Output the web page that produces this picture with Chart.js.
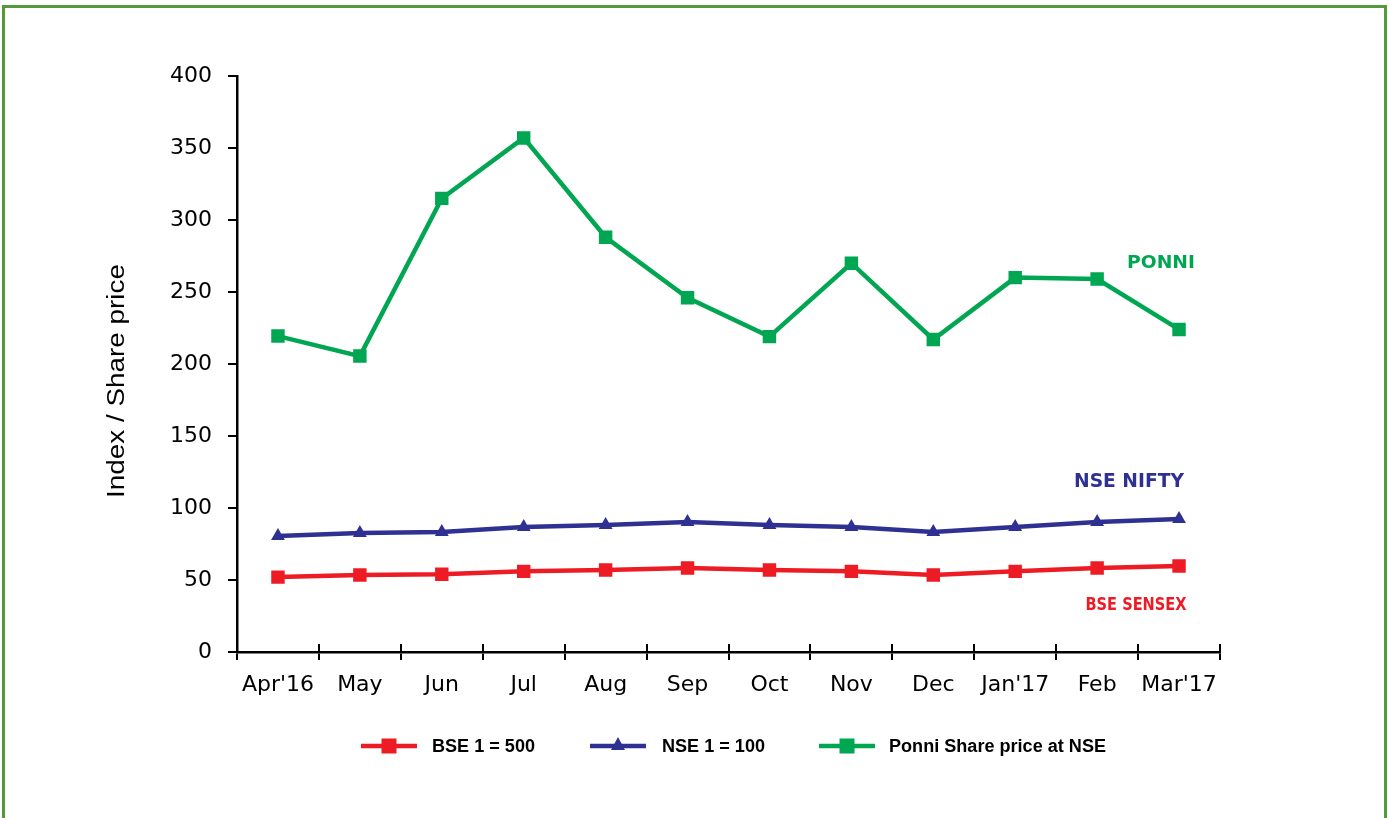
<!DOCTYPE html>
<html>
<head>
<meta charset="utf-8">
<script src="https://cdn.jsdelivr.net/npm/chart.js@4.4.1/dist/chart.umd.min.js"></script>
<style>
  html, body { margin: 0; padding: 0; background: #fff; overflow: hidden; }
  #frame { position: absolute; left: 2px; top: 5px; width: 1379px; height: 900px;
           border: 3px solid #55993a; box-sizing: content-box; }
  #c { position: absolute; left: 0; top: 0; }
</style>
</head>
<body>
<div id="frame"></div>
<canvas id="c" width="1389" height="818"></canvas>
<script>
const categories = ["Apr'16", "May", "Jun", "Jul", "Aug", "Sep", "Oct", "Nov", "Dec", "Jan'17", "Feb", "Mar'17"];
const bseValues = [52, 53.5, 54, 56, 57, 58.3, 57, 56, 53.5, 56, 58.3, 59.7];
const nseValues = [80.5, 82.6, 83.3, 86.8, 88.2, 90.3, 88.2, 86.8, 83.3, 86.8, 90.3, 92.4];
const ponniValues = [219.4, 205.5, 315, 357, 288, 246, 219, 270, 217, 260, 259, 224];
const seriesNames = ["BSE 1 = 500", "NSE 1 = 100", "Ponni Share price at NSE"];
const yTicks = [0, 50, 100, 150, 200, 250, 300, 350, 400];
const axisTitle = "Index / Share price";
const seriesTags = ["BSE SENSEX", "NSE NIFTY", "PONNI"];

const RED = '#ED1C24', BLUE = '#2E3192', GREEN = '#00A651';
const TICK_FONT = '"DejaVu Sans", Verdana, sans-serif';

function drawFitText(ctx, text, x, y, width, align) {
  const w = ctx.measureText(text).width;
  const sx = width / w;
  ctx.save();
  ctx.translate(x, y);
  ctx.scale(sx, 1);
  ctx.textAlign = align;
  ctx.fillText(text, 0, 0);
  ctx.restore();
}

const extrasPlugin = {
  id: 'extras',
  afterDraw(chart) {
    const ctx = chart.ctx;
    const xs = chart.scales.x, ys = chart.scales.y;
    ctx.save();
    ctx.strokeStyle = '#000';
    ctx.lineWidth = 2;
    const n = categories.length;
    for (let i = 0; i <= n; i++) {
      const px = Math.round(xs.left + i * (xs.right - xs.left) / n);
      ctx.beginPath();
      ctx.moveTo(px, ys.bottom);
      ctx.lineTo(px, ys.bottom - 8);
      ctx.stroke();
    }
    // axis title
    ctx.fillStyle = '#000';
    ctx.font = '23px "Liberation Sans", Arial, sans-serif';
    ctx.textBaseline = 'middle';
    ctx.translate(118, 381);
    ctx.rotate(-Math.PI / 2);
    drawFitText(ctx, axisTitle, 0, 0, 234, 'center');
    ctx.restore();

    // series tags
    ctx.save();
    ctx.textBaseline = 'middle';
    ctx.fillStyle = GREEN;
    ctx.font = 'bold 18px "DejaVu Sans", Verdana, sans-serif';
    drawFitText(ctx, seriesTags[2], 1161, 263, 68, 'center');
    ctx.fillStyle = BLUE;
    ctx.font = 'bold 20px "DejaVu Sans", Verdana, sans-serif';
    drawFitText(ctx, seriesTags[1], 1129, 482, 110, 'center');
    ctx.fillStyle = RED;
    ctx.font = 'bold 17px "DejaVu Sans", Verdana, sans-serif';
    drawFitText(ctx, seriesTags[0], 1136, 606, 101, 'center');
    ctx.restore();

    // legend
    ctx.save();
    const items = [
      { x0: 361, x1: 417, tx: 432, tw: 103 },
      { x0: 590, x1: 646, tx: 662, tw: 103 },
      { x0: 819, x1: 875, tx: 889, tw: 217 }
    ];
    const ly = 746;
    chart.data.datasets.forEach((ds, i) => {
      const it = items[i];
      ctx.strokeStyle = ds.borderColor;
      ctx.lineWidth = 4.5;
      ctx.beginPath();
      ctx.moveTo(it.x0, ly);
      ctx.lineTo(it.x1, ly);
      ctx.stroke();
      ctx.fillStyle = ds.borderColor;
      const cx = (it.x0 + it.x1) / 2;
      if (ds.pointStyle === 'triangle') {
        ctx.beginPath();
        ctx.moveTo(cx, ly - 9);
        ctx.lineTo(cx + 7, ly + 4);
        ctx.lineTo(cx - 7, ly + 4);
        ctx.closePath();
        ctx.fill();
      } else {
        ctx.fillRect(cx - 7.5, ly - 7.5, 15, 15);
      }
      ctx.fillStyle = '#000';
      ctx.font = 'bold 18px "Liberation Sans", Arial, sans-serif';
      ctx.textBaseline = 'middle';
      drawFitText(ctx, ds.label, it.tx, ly + 1, it.tw, 'left');
    });
    ctx.restore();
  }
};

new Chart(document.getElementById('c'), {
  type: 'line',
  data: {
    labels: categories,
    datasets: [
      { label: seriesNames[0], data: bseValues, borderColor: RED, backgroundColor: RED,
        borderWidth: 4.5, pointStyle: 'rect', pointRadius: 9.5, pointBorderWidth: 0, tension: 0 },
      { label: seriesNames[1], data: nseValues, borderColor: BLUE, backgroundColor: BLUE,
        borderWidth: 4.5, pointStyle: 'triangle', pointRadius: 8, pointBorderWidth: 0, tension: 0 },
      { label: seriesNames[2], data: ponniValues, borderColor: GREEN, backgroundColor: GREEN,
        borderWidth: 4.5, pointStyle: 'rect', pointRadius: 9.5, pointBorderWidth: 0, tension: 0 }
    ]
  },
  options: {
    responsive: false,
    animation: false,
    layout: { padding: { left: 0, top: 76, right: 169, bottom: 0 } },
    plugins: { legend: { display: false }, tooltip: { enabled: false } },
    scales: {
      x: {
        type: 'category',
        offset: true,
        grid: { offset: true, drawOnChartArea: false, tickLength: 8, color: '#000', lineWidth: 2 },
        border: { display: true, color: '#000', width: 2.5 },
        ticks: { color: '#000', font: { family: TICK_FONT, size: 22 }, padding: 12, maxRotation: 0, autoSkip: false },
        afterFit(scale) { scale.height = 166; }
      },
      y: {
        min: 0, max: 400,
        afterBuildTicks(scale) { scale.ticks = yTicks.map(v => ({ value: v })); },
        grid: { drawOnChartArea: false, tickLength: 9, color: '#000', lineWidth: 2 },
        border: { display: true, color: '#000', width: 2.5 },
        ticks: { color: '#000', font: { family: TICK_FONT, size: 22 }, padding: 16 },
        afterFit(scale) { scale.width = 237; }
      }
    }
  },
  plugins: [extrasPlugin]
});
</script>
</body>
</html>
